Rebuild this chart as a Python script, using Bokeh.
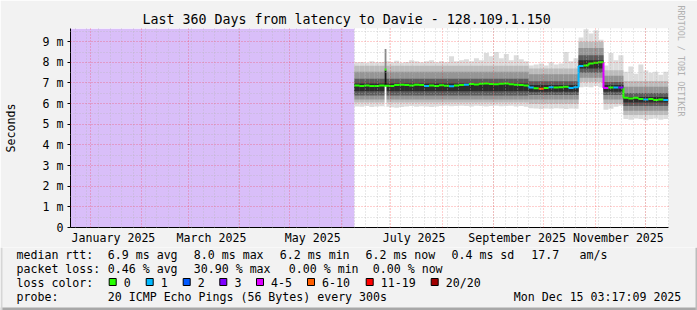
import pandas as pd
from bokeh.plotting import figure
from bokeh.layouts import column
from bokeh.models import (ColumnDataSource, FixedTicker, Range1d, Title, Arrow,
                          CustomJSTickFormatter, DatetimeTickFormatter)
from bokeh.core.properties import value
from bokeh.embed import file_html
from bokeh.resources import INLINE

# ---------------- data ----------------
title_text = "Last 360 Days from latency to Davie - 128.109.1.150"
graph_end = "2025-12-15 03:17:09"
span_days = 360
data_start = "2025-06-09"
bucket_days = 3

median_ms = [6.88, 6.86, 6.88, 6.86, 6.85, 6.88, 6.87, 6.86, 6.90, 6.92,
             6.90, 6.88, 6.91, 6.90, 6.86, 6.88, 6.85, 6.89, 6.87, 6.84,
             6.88, 6.90, 6.92, 6.95, 6.93, 6.96, 6.98, 6.95, 6.94, 6.96,
             6.97, 6.94, 6.92, 6.90, 6.88,
             6.78, 6.75, 6.72, 6.76, 6.80, 6.78, 6.80, 6.82, 6.76, 6.80,
             7.82, 7.85, 7.95, 7.98, 8.00,
             6.76, 6.78, 6.78, 6.78,
             6.28, 6.25, 6.28, 6.22, 6.20, 6.22, 6.18, 6.20, 6.18]
loss_class = [0, 0, 0, 0, 0, 0, 0, 0, 0, 0,
              0, 0, 0, 0, 1, 0, 0, 0, 0, 1,
              0, 0, 1, 0, 0, 0, 0, 0, 0, 0,
              0, 0, 0, 0, 0, 1, 0, 5, 0, 1,
              0, 0, 0, 1, 1, 1, 0, 0, 0, 0,
              4, 0, 1, 3, 0, 0, 0, 0, 1, 0,
              0, 0, 1]
smoke_max = [8.00, 8.02, 7.98, 8.05, 8.00, 8.02, 8.05, 8.00, 8.08, 7.98,
             8.02, 8.10, 8.05, 8.00, 8.05, 8.10, 8.00, 8.05, 8.00, 8.30,
             8.05, 8.10, 8.15, 8.05, 8.20, 8.10, 8.45, 8.30, 8.50, 8.20,
             8.40, 8.10, 8.35, 8.15, 8.05,
             7.85, 7.90, 7.95, 7.85, 8.00, 7.90, 7.95, 8.50, 8.05, 8.20,
             9.20, 9.60, 9.40, 9.55, 9.10,
             7.85, 8.45, 8.10, 8.35,
             7.55, 7.80, 7.45, 7.90, 7.60, 7.50, 7.55, 7.40, 7.55]
smoke_min = [5.86, 5.85, 5.88, 5.84, 5.86, 5.87, 5.85, 5.82, 5.80, 5.84,
             5.86, 5.88, 5.85, 5.87, 5.86, 5.84, 5.86, 5.88, 5.90, 5.87,
             5.89, 5.90, 5.88, 5.86, 5.90, 5.88, 5.86, 5.89, 5.90, 5.87,
             5.88, 5.90, 5.86, 5.88, 5.85,
             5.78, 5.76, 5.74, 5.77, 5.75, 5.78, 5.76, 5.74, 5.77, 5.75,
             6.80, 6.82, 6.80, 6.85, 6.80,
             5.70, 5.75, 5.85, 5.90,
             5.26, 5.22, 5.28, 5.25, 5.20, 5.25, 5.28, 5.22, 5.26]

# inner smoke quantiles per regime
regime_start = ["2025-06-09", "2025-09-22", "2025-10-22", "2025-11-06", "2025-11-18"]
q05 = [6.05, 6.00, 7.05, 6.00, 5.45]
q95 = [7.84, 7.70, 9.00, 7.62, 7.10]
q15 = [6.20, 6.20, 7.25, 6.20, 5.65]
q85 = [7.55, 7.42, 8.70, 7.35, 6.82]
q30 = [6.40, 6.42, 7.50, 6.42, 5.88]
q70 = [7.20, 7.08, 8.35, 7.05, 6.52]
q40 = [6.60, 6.58, 7.70, 6.58, 6.05]
q60 = [6.98, 6.90, 8.10, 6.90, 6.32]

# single-step spike
spike_time = ["2025-06-27 06:00"]
spike_gap_lo = [5.85]
spike_lo = [6.85]
spike_mid = [7.62]
spike_hi = [8.65]
spike_med = [7.65]

month_labels = ["2025-01-15", "2025-03-15", "2025-05-15", "2025-07-15", "2025-09-15", "2025-11-15"]

rtt_label = "median rtt:"
rtt_stats = ["6.9 ms avg", "8.0 ms max", "6.2 ms min", "6.2 ms now", "0.4 ms sd", "17.7", "am/s"]
loss_label = "packet loss:"
loss_stats = ["0.46 % avg", "30.90 % max", "0.00 % min", "0.00 % now"]
lc_label = "loss color:"
loss_names = ["0", "1", "2", "3", "4-5", "6-10", "11-19", "20/20"]
loss_colors = ["#26ff00", "#00b8ff", "#0059ff", "#7e00ff", "#dd00ff", "#ff5e00", "#ff0000", "#a10000"]
probe_label = "probe:"
probe_text = "20 ICMP Echo Pings (56 Bytes) every 300s"
stamp_text = "Mon Dec 15 03:17:09 2025"
watermark = "RRDTOOL / TOBI OETIKER"

# ---------------- style / layout ----------------
FONT = "DejaVu Sans Mono"
FS = "11.6px"
BG = "#f2f2f2"
PURPLE = "#d9bef9"
SHADES = ["#dcdcdc", "#bcbcbc", "#959595", "#5c5c5c", "#2c2c2c"]
HEAD = "#8b0000"
Y_TOP = 9.64
MAIN_H = 247
LEG_H = 310 - MAIN_H

t_end = pd.Timestamp(graph_end)
t_start = t_end - pd.Timedelta(days=span_days)

n = len(median_ms)
b_left = pd.date_range(data_start, periods=n, freq=f"{bucket_days}D")
b_right = b_left + pd.Timedelta(days=bucket_days)
r_starts = pd.to_datetime(regime_start)
reg = [max(i for i, s in enumerate(r_starts) if s <= t) for t in b_left]

p = figure(width=697, height=MAIN_H, output_backend="svg", toolbar_location=None,
           x_axis_type="datetime",
           x_range=Range1d(t_start.to_pydatetime(), t_end.to_pydatetime()),
           y_range=Range1d(0, Y_TOP),
           min_border_left=67, min_border_right=29, min_border_top=28,
           min_border_bottom=MAIN_H - 227, frame_align=False,
           background_fill_color="white", border_fill_color=BG, outline_line_color=None)

p.title.text = title_text
p.title.align = "left"
p.title.offset = 72
p.title.text_font = FONT
p.title.text_font_size = "13.3px"
p.title.text_font_style = "normal"
p.title.text_color = "black"
p.title.standoff = 3

p.add_layout(Title(text=watermark, align="left", offset=-23, text_font=FONT,
                   text_font_size="8.4px", text_font_style="normal",
                   text_color="#b0b0b0", standoff=15), "right")

# unknown-data region
p.quad(left=[t_start], right=[pd.Timestamp(data_start)], bottom=[0], top=[Y_TOP],
       fill_color=PURPLE, line_color=None)

# smoke bands
pairs = [(smoke_min, smoke_max, None, None), (None, None, q05, q95), (None, None, q15, q85),
         (None, None, q30, q70), (None, None, q40, q60)]
for k, (mn, mx, qlo, qhi) in enumerate(pairs):
    if mn is not None:
        lo, hi = list(mn), list(mx)
    else:
        lo = [max(qlo[reg[i]], smoke_min[i]) for i in range(n)]
        hi = [min(qhi[reg[i]], smoke_max[i]) for i in range(n)]
    src = ColumnDataSource(dict(left=b_left, right=b_right, bottom=lo, top=hi))
    p.quad(left="left", right="right", bottom="bottom", top="top", source=src,
           fill_color=SHADES[k], line_color=None)

# spike step
st = pd.to_datetime(spike_time)
st_r = st + pd.Timedelta(hours=26)
p.quad(left=st, right=st_r, bottom=spike_gap_lo, top=spike_lo, fill_color="white", line_color=None)
p.quad(left=st, right=st_r, bottom=spike_lo, top=spike_mid, fill_color="#151515", line_color=None)
p.quad(left=st, right=st_r, bottom=spike_mid, top=spike_hi, fill_color="#8a8a8a", line_color=None)

# median line coloured by loss
seg_src = ColumnDataSource(dict(x0=b_left, x1=b_right, y0=median_ms, y1=median_ms,
                                c=[loss_colors[c] for c in loss_class]))
vx = list(b_right[:-1])
vsrc = ColumnDataSource(dict(x0=vx, x1=vx, y0=median_ms[:-1], y1=median_ms[1:],
                             c=[loss_colors[c] for c in loss_class[1:]]))
p.segment(x0="x0", y0="y0", x1="x1", y1="y1", source=vsrc, line_color="c", line_width=2)
p.segment(x0="x0", y0="y0", x1="x1", y1="y1", source=seg_src, line_color="c", line_width=2)
p.segment(x0=st, y0=spike_med, x1=st_r, y1=spike_med, line_color=loss_colors[0], line_width=2)

# grids
months = pd.date_range("2025-01-01", "2025-12-01", freq="MS")
weeks = pd.date_range("2024-12-23", t_end, freq="7D")
to_ms = lambda ts: [t.value / 1e6 for t in ts]
xg = p.xgrid[0]
xg.ticker = FixedTicker(ticks=to_ms(months), minor_ticks=to_ms(weeks))
yg = p.ygrid[0]
yg.ticker = FixedTicker(ticks=list(range(0, 10)), minor_ticks=[i + 0.5 for i in range(0, 10)])
for g in (xg, yg):
    g.level = "annotation"
    g.grid_line_color = "#ff0000"
    g.grid_line_alpha = 0.38
    g.grid_line_dash = "1 2"
    g.minor_grid_line_color = "#b4b4b4"
    g.minor_grid_line_alpha = 0.6
    g.minor_grid_line_dash = "1 2"

# axes
xa = p.xaxis[0]
xa.ticker = FixedTicker(ticks=to_ms(pd.to_datetime(month_labels)), minor_ticks=[])
xa.formatter = DatetimeTickFormatter(days="%B %Y", months="%B %Y", years="%B %Y",
                                     hours="%B %Y", context=None)
ya = p.yaxis[0]
ya.ticker = FixedTicker(ticks=list(range(0, 10)), minor_ticks=[])
ya.formatter = CustomJSTickFormatter(code="return tick == 0 ? '0' : tick.toFixed(0) + ' m';")
ya.axis_label = "Seconds"
ya.axis_label_text_font = FONT
ya.axis_label_text_font_size = FS
ya.axis_label_text_font_style = "normal"
ya.axis_label_text_color = "black"
ya.axis_label_standoff = 22
for a in (xa, ya):
    a.axis_line_color = "black"
    a.major_label_text_font = FONT
    a.major_label_text_font_size = FS
    a.major_label_text_color = "black"
    a.minor_tick_line_color = None
    a.minor_tick_out = 0
    a.minor_tick_in = 0
xa.major_tick_line_color = None
xa.major_tick_out = 0
xa.major_tick_in = 0
xa.major_label_standoff = 3
ya.major_tick_line_color = "black"
ya.major_tick_out = 3
ya.major_tick_in = 0
ya.major_label_standoff = 4


def cline(x0, y0, x1, y1, color, width):
    p.add_layout(Arrow(end=None, x_start=x0, y_start=y0, x_end=x1, y_end=y1,
                       start_units="canvas", end_units="canvas",
                       line_color=color, line_width=width))


# axis extensions and arrow heads
cline(668, 227.5, 673, 227.5, "black", 1)
cline(67.5, 28, 67.5, 24, "black", 1)
cline(673, 227.5, 674.5, 227.5, HEAD, 7)
cline(674.5, 227.5, 676, 227.5, HEAD, 4.5)
cline(676, 227.5, 677.5, 227.5, HEAD, 2)
cline(67.5, 26, 67.5, 24.5, HEAD, 7)
cline(67.5, 24.5, 67.5, 23, HEAD, 4.5)
cline(67.5, 23, 67.5, 21.5, HEAD, 2)
# canvas edge shading
cline(0, 1, 697, 1, "#d6d6d6", 2)
cline(1, 0, 1, MAIN_H, "#d6d6d6", 2)
cline(696, 0, 696, MAIN_H, "#bcbcbc", 2)

# ---------------- legend strip ----------------
leg = figure(width=697, height=LEG_H, output_backend="svg", toolbar_location=None,
             x_range=Range1d(0, 697), y_range=Range1d(LEG_H, 0),
             x_axis_location=None, y_axis_location=None, min_border=0, frame_align=False,
             background_fill_color=BG, border_fill_color=BG, outline_line_color=None)
leg.grid.visible = False

rows_y = [254 - MAIN_H, 268 - MAIN_H, 282 - MAIN_H, 296 - MAIN_H]
tx, ty, tt = [], [], []


def put(x, y, t):
    tx.append(x)
    ty.append(y)
    tt.append(t)


put(16, rows_y[0], rtt_label)
for x, t in zip([107.3, 193.3, 279.3, 365, 451, 530.7, 579], rtt_stats):
    put(x, rows_y[0], t)
put(16, rows_y[1], loss_label)
for x, t in zip([107.3, 193.3, 288.3, 372.3], loss_stats):
    put(x, rows_y[1], t)
put(16, rows_y[2], lc_label)
box_x = [108.7, 145.7, 182.7, 219.3, 256, 307, 365.7, 430.7]
for x, t in zip(box_x, loss_names):
    put(x + 14.6, rows_y[2], t)
put(16, rows_y[3], probe_label)
put(107.3, rows_y[3], probe_text)
put(513.3, rows_y[3], stamp_text)

leg.text(x=tx, y=ty, text=tt, text_font=value(FONT), text_font_size=value(FS),
         text_color="black", text_baseline="middle", text_align="left")
leg.quad(left=box_x, right=[x + 7 for x in box_x], top=[rows_y[2] - 4] * 8,
         bottom=[rows_y[2] + 3] * 8, fill_color=loss_colors, line_color="black", line_width=1)
# frame shading at bottom / sides
leg.quad(left=[0, 695, 0], right=[697, 697, 2], top=[LEG_H - 3, 0, 0],
         bottom=[LEG_H, LEG_H, LEG_H], fill_color=["#a8a8a8", "#bcbcbc", "#d6d6d6"],
         line_color=None)

open("out.html", "w").write(file_html(column(p, leg, spacing=0), INLINE))
